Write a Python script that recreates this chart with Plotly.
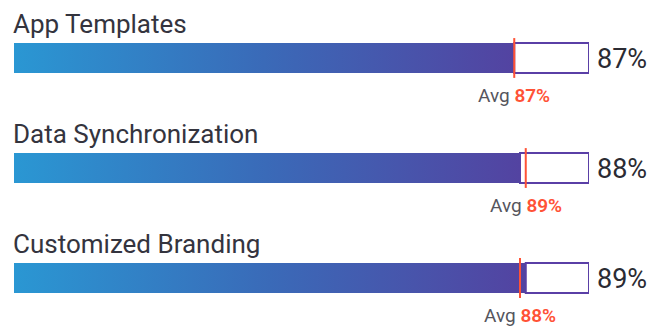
import plotly.graph_objects as go

# Feature adoption scores (percent) and the average for each feature
features = ["App Templates", "Data Synchronization", "Customized Branding"]
scores = [87, 88, 89]
averages = [87, 89, 88]
full_scale = 100

BAR_HALF = 0.136          # half bar thickness in y units
LINE_EXT = 0.045          # how far the average marker pokes past the bar
GRAD = [[0, "#2a97d3"], [0.5, "#3a6ab8"], [1, "#5343a1"]]
BORDER = "#5a3fa6"
AVG_COLOR = "#ff5236"
FONT = "Roboto"

fig = go.Figure()

for i, (name, score, avg) in enumerate(zip(features, scores, averages)):
    top, bottom = i - BAR_HALF, i + BAR_HALF

    # remaining portion up to 100% drawn as an outlined empty box
    fig.add_trace(go.Bar(
        x=[full_scale - score], y=[i], base=[score], orientation="h",
        width=2 * BAR_HALF,
        marker=dict(color="white", line=dict(color=BORDER, width=2)),
        hoverinfo="skip", showlegend=False,
    ))

    # gradient-filled score bar
    fig.add_trace(go.Scatter(
        x=[0, score, score, 0, 0], y=[top, top, bottom, bottom, top],
        mode="lines", line=dict(width=0), fill="toself",
        fillgradient=dict(type="horizontal", colorscale=GRAD),
        hoverinfo="skip", showlegend=False,
    ))

    # average marker
    fig.add_trace(go.Scatter(
        x=[avg, avg], y=[top - LINE_EXT, bottom + LINE_EXT],
        mode="lines", line=dict(color=AVG_COLOR, width=2),
        hoverinfo="skip", showlegend=False,
    ))

    # feature title
    fig.add_annotation(
        x=0, y=top, xref="x", yref="y", text=name, showarrow=False,
        xanchor="left", yanchor="bottom", yshift=2, xshift=-3,
        font=dict(family=FONT, size=26, color="#34343e"),
    )
    # score value on the right
    fig.add_annotation(
        x=full_scale, y=i, xref="x", yref="y", text=f"{score}%",
        showarrow=False, xanchor="left", yanchor="middle", xshift=6, yshift=-1,
        font=dict(family=FONT, size=27, color="#2b2b33"),
    )
    # average label beneath the marker
    fig.add_annotation(
        x=avg, y=bottom, xref="x", yref="y",
        text=f"Avg <span style='color:{AVG_COLOR};font-weight:600'>{avg}%</span>",
        showarrow=False, xanchor="center", yanchor="top", yshift=-9,
        font=dict(family=FONT, size=19, color="#55555d"),
    )

fig.update_layout(
    width=668, height=327,
    margin=dict(l=14, r=79, t=0, b=0),
    paper_bgcolor="white", plot_bgcolor="white",
    barmode="overlay",
    xaxis=dict(range=[0, full_scale], visible=False, fixedrange=True),
    yaxis=dict(range=[2.445, -0.527], visible=False, fixedrange=True),
)

fig.write_html("out.html")
